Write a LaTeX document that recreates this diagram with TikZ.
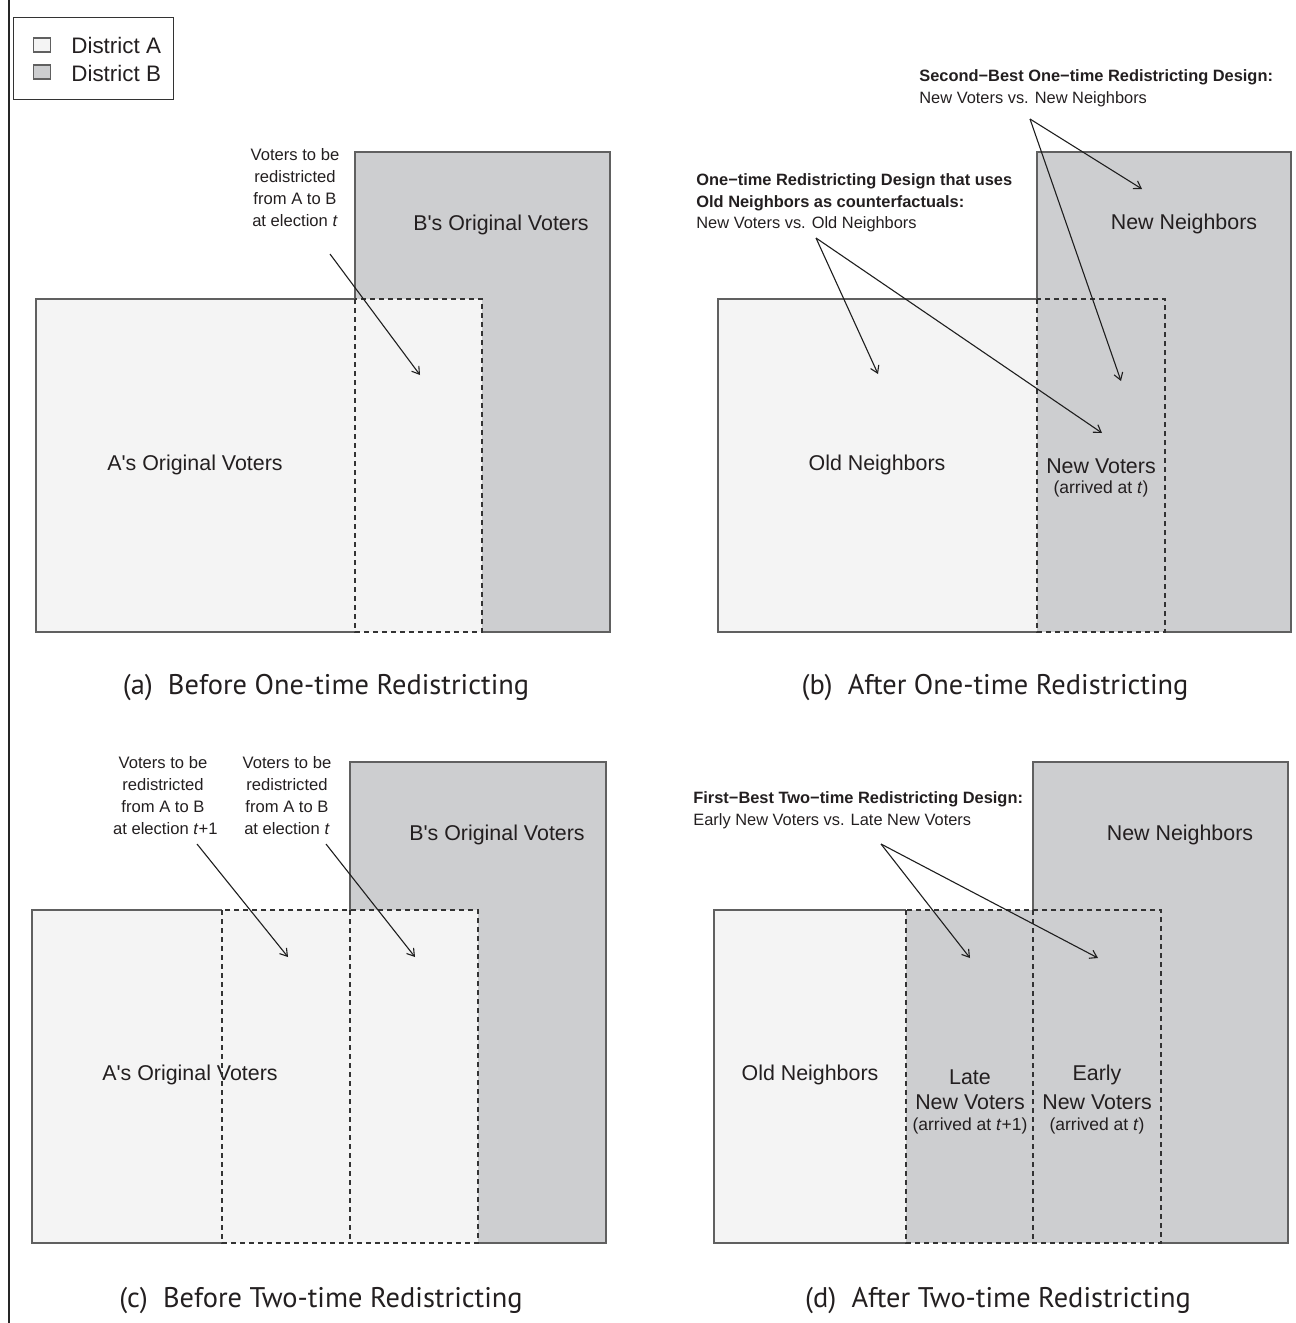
\documentclass[tikz,border=0pt]{standalone}
\usepackage{fontspec}
\setmainfont{Liberation Sans}
\newfontfamily\capfont{PT Sans}
\usetikzlibrary{arrows.meta}
\definecolor{lightA}{HTML}{F4F4F4}
\definecolor{greyB}{HTML}{CDCED0}
\definecolor{bordc}{HTML}{606060}
\definecolor{dashc}{HTML}{333333}
\definecolor{arrc}{HTML}{1E1E1E}
\definecolor{txtc}{HTML}{231F20}
\newcommand\ap{\textquotesingle}
\tikzset{
  bdr/.style={draw=bordc, line width=1pt, line join=miter},
  dbox/.style={draw=dashc, line width=0.6pt, dash pattern=on 2.5pt off 2pt},
  arr/.style={draw=arrc, line width=0.55pt, -{Straight Barb[length=3.5pt,width=4.5pt]}},
  big/.style={inner sep=0pt, text=txtc, font=\fontsize{10.7}{12.5}\selectfont},
  sub/.style={inner sep=0pt, text=txtc, font=\fontsize{8.75}{10.5}\selectfont},
  ann/.style={inner sep=0pt, text=txtc, align=center, font=\fontsize{8.3}{11}\selectfont},
  annl/.style={inner sep=0pt, text=txtc, align=left, anchor=west, font=\fontsize{8.2}{10.8}\selectfont},
  capt/.style={inner sep=0pt, text=txtc, font=\capfont\fontsize{14.2}{17}\selectfont},
  legtxt/.style={inner sep=0pt, text=txtc, anchor=west, font=\fontsize{11.2}{13}\selectfont},
  legsq/.style={draw=bordc, line width=0.6pt, minimum width=8.5pt, minimum height=7pt, inner sep=0pt}
}
\begin{document}
\begin{tikzpicture}[x=0.5pt,y=-0.5pt]
\useasboundingbox (0,0) rectangle (1296,1323);
% left rule
\draw[line width=1pt, color=black!85] (9,0) -- (9,1323);

% legend
\node[draw=black!80, line width=0.7pt, minimum width=80pt, minimum height=41pt, inner sep=0pt, anchor=north west] (legend) at (13,17) {};
\node[legsq, fill=lightA] (sqA) at (42,45) {};
\node[legsq, fill=greyB] (sqB) at (42,72) {};
\node[legtxt] (legA) at (71,45) {District A};
\node[legtxt] (legB) at (71,73) {District B};

% ---------------- panel (a)
\fill[greyB] (355,152) rectangle (610,632);
\fill[lightA] (36,299) rectangle (482,632);
\draw[bdr] (355,299) -- (36,299) -- (36,632) -- (355,632);
\draw[bdr] (355,299) -- (355,152) -- (610,152) -- (610,632) -- (482,632);
\draw[dbox] (355,299) rectangle (482,632);
\node[ann] (va) at (295,188) {Voters to be\\redistricted\\from A to B\\at election \textit{t}};
\node[big] (Bov) at (501,225) {B\ap s Original Voters};
\node[big] (Aov) at (195,465) {A\ap s Original Voters};
\coordinate (as) at (330,254);
\coordinate (ae) at (420,375);
\draw[arr] (as) -- (ae);
\node[capt] (capa) at (326,688) {(a)\ \ Before One-time Redistricting};

% ---------------- panel (b)
\fill[greyB] (1037,152) rectangle (1291,632);
\fill[lightA] (718,299) rectangle (1037,632);
\draw[bdr] (1037,299) -- (718,299) -- (718,632) -- (1037,632);
\draw[bdr] (1037,299) -- (1037,152) -- (1291,152) -- (1291,632) -- (1165,632);
\draw[dbox] (1037,299) rectangle (1165,632);
\node[big] (NNb) at (1184,224) {New Neighbors};
\node[big] (ONb) at (877,465) {Old Neighbors};
\node[big] (NVb) at (1101,466) {New Voters};
\node[sub] (NVbs) at (1101,489) {(arrived at \textit{t})};
\node[annl] (b1) at (919,88) {\textbf{Second−Best One−time Redistricting Design:}\\New Voters vs. New Neighbors};
\node[annl] (b2) at (696,203) {\textbf{One−time Redistricting Design that uses}\\\textbf{Old Neighbors as counterfactuals:}\\New Voters vs. Old Neighbors};
\coordinate (b1s) at (1030,119);
\coordinate (b1e1) at (1142,189);
\coordinate (b1e2) at (1121,381);
\coordinate (b2s) at (816,238);
\coordinate (b2e1) at (878,374);
\coordinate (b2e2) at (1102,433);
\draw[arr] (b1s) -- (b1e1);
\draw[arr] (b1s) -- (b1e2);
\draw[arr] (b2s) -- (b2e1);
\draw[arr] (b2s) -- (b2e2);
\node[capt] (capb) at (995,688) {(b)\ \ After One-time Redistricting};

% ---------------- panel (c)
\fill[greyB] (350,762) rectangle (606,1243);
\fill[lightA] (32,910) rectangle (478,1243);
\node[big] (Boc) at (497,835) {B\ap s Original Voters};
\node[big] (Aoc) at (190,1075) {A\ap s Original Voters};
\draw[bdr] (222,910) -- (32,910) -- (32,1243) -- (222,1243);
\draw[bdr] (350,910) -- (350,762) -- (606,762) -- (606,1243) -- (478,1243);
\draw[dbox] (222,910) rectangle (478,1243);
\draw[dbox] (350,910) -- (350,1243);
\node[ann] (vc1) at (163,796) {Voters to be\\redistricted\\from A to B\\\ at election \textit{t}+1};
\node[ann] (vc2) at (287,796) {Voters to be\\redistricted\\from A to B\\at election \textit{t}};
\coordinate (c1s) at (197,844);
\coordinate (c1e) at (288,957);
\coordinate (c2s) at (326,844);
\coordinate (c2e) at (415,957);
\draw[arr] (c1s) -- (c1e);
\draw[arr] (c2s) -- (c2e);
\node[capt] (capc) at (321,1300) {(c)\ \ Before Two-time Redistricting};

% ---------------- panel (d)
\fill[greyB] (1033,762) rectangle (1288,1243);
\fill[greyB] (906,910) rectangle (1033,1243);
\fill[lightA] (714,910) rectangle (906,1243);
\draw[bdr] (906,910) -- (714,910) -- (714,1243) -- (906,1243);
\draw[bdr] (1033,910) -- (1033,762) -- (1288,762) -- (1288,1243) -- (1161,1243);
\draw[dbox] (906,910) rectangle (1161,1243);
\draw[dbox] (1033,910) -- (1033,1243);
\node[big] (NNd) at (1180,835) {New Neighbors};
\node[big] (ONd) at (810,1075) {Old Neighbors};
\node[big] (late) at (970,1077) {Late};
\node[big] (lateNV) at (970,1102) {New Voters};
\node[sub] (lates) at (970,1126) {(arrived at \textit{t}+1)};
\node[big] (early) at (1097,1075) {Early};
\node[big] (earlyNV) at (1097,1102) {New Voters};
\node[sub] (earlys) at (1097,1126) {(arrived at \textit{t})};
\node[annl] (d1) at (693,810) {\textbf{First−Best Two−time Redistricting Design:}\\Early New Voters vs. Late New Voters};
\coordinate (ds) at (881,844);
\coordinate (de1) at (970,958);
\coordinate (de2) at (1098,958);
\draw[arr] (ds) -- (de1);
\draw[arr] (ds) -- (de2);
\node[capt] (capd) at (998,1300) {(d)\ \ After Two-time Redistricting};
\end{tikzpicture}
\end{document}
